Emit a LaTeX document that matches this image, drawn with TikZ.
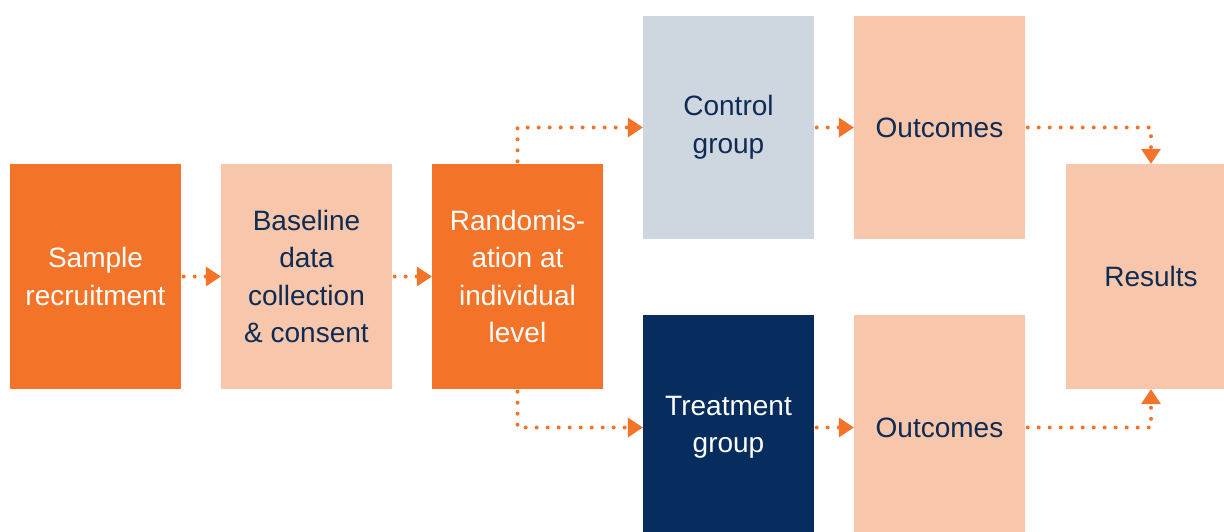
\documentclass[tikz,border=0pt]{standalone}
\usepackage{fontspec}
\setmainfont{Liberation Sans}
\usetikzlibrary{arrows.meta}

\definecolor{brandorange}{HTML}{F37329}
\definecolor{peach}{HTML}{F8C6AA}
\definecolor{paleblue}{HTML}{CED7E0}
\definecolor{navy}{HTML}{062D5D}
\definecolor{inknavy}{HTML}{0E2B54}

\begin{document}
\begin{tikzpicture}[x=1pt, y=-1pt,
  stage/.style={rectangle, draw=none, inner sep=0pt, align=center,
    minimum width=171pt, minimum height=225pt,
    font=\fontsize{28}{37.5}\selectfont},
  hotstage/.style={stage, fill=brandorange, text=white},
  softstage/.style={stage, fill=peach, text=inknavy},
  greystage/.style={stage, fill=paleblue, text=inknavy},
  darkstage/.style={stage, fill=navy, text=white},
  flow/.style={draw=brandorange, line width=4pt, line cap=round,
    dash pattern=on 0pt off 11pt, shorten <=2.5pt,
    -{Triangle[length=15pt, width=20pt, line width=0pt]}}
]
\useasboundingbox (0,0) rectangle (1224,532);
\clip (0,0) rectangle (1224,532);

% stages of the trial
\node[hotstage]  (sample)  at (95.5,276.5)  {Sample\\recruitment};
\node[softstage] (base)    at (306.5,276.5) {Baseline\\data\\collection\\\& consent};
\node[hotstage]  (rand)    at (517.5,276.5) {Randomis-\\ation at\\individual\\level};
\node[greystage, minimum height=223pt] (control) at (728.5,127.5) {Control\\group};
\node[softstage, minimum height=223pt] (outA)    at (939.5,127.5) {Outcomes};
\node[darkstage] (treat)   at (728.5,427.5) {Treatment\\group};
\node[softstage] (outB)    at (939.5,427.5) {Outcomes};
\node[softstage] (results) at (1151,276.5)  {Results};

% dotted connectors
\draw[flow] (sample.east) -- (base.west);
\draw[flow] (base.east) -- (rand.west);
\draw[flow] (rand.north) |- (control.west);
\draw[flow] (rand.south) |- (treat.west);
\draw[flow] (control.east) -- (outA.west);
\draw[flow] (treat.east) -- (outB.west);
\draw[flow] (outA.east) -| (results.north);
\draw[flow] (outB.east) -| (results.south);
\end{tikzpicture}
\end{document}
